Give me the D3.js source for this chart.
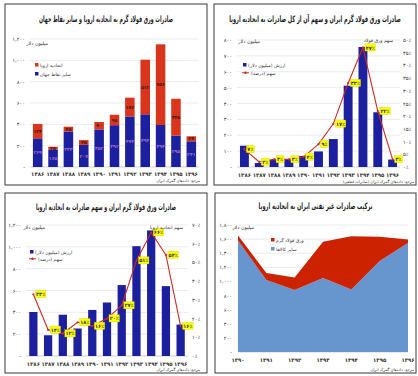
<!DOCTYPE html>
<html>
<head>
<meta charset="utf-8">
<script src="https://cdnjs.cloudflare.com/ajax/libs/d3/7.8.5/d3.min.js"></script>
<style>
body { margin: 0; background: #fff; }
svg { display: block; font-family: "DejaVu Sans", sans-serif; }
</style>
</head>
<body>
<div id="chart"></div>
<script>
// داده ها - میلیون دلار
var years = ["1386","1387","1388","1389","1390","1391","1392","1393","1394","1395","1396"];
var euSteel    = [134, 25, 45, 45, 70, 98, 176, 512, 756, 345, 47];   // ورق فولاد گرم به اتحادیه اروپا
var otherWorld = [269, 165, 333, 207, 352, 392, 474, 494, 394, 295, 241]; // سایر نقاط جهان
var steelShareOfEuExports = [7, 2, 3, 3, 4, 9, 17, 33, 47, 22, 3];   // درصد
var euShareOfSteel = [33, 14, 12, 18, 16, 20, 27, 51, 66, 54, 16];   // درصد
var areaYears   = ["1390","1391","1392","1393","1394","1395","1396"];
var euOtherGoods = [1580, 1020, 880, 1050, 885, 1290, 1546];
var euHotSteel   = [70, 98, 176, 512, 756, 345, 47];

var RLM = "\u200F";
var FA_DIGITS = "۰۱۲۳۴۵۶۷۸۹";
function fa(s) { return String(s).replace(/\d/g, function(d) { return FA_DIGITS[d]; }); }
function faNum(v) { return v === 0 ? "-" : fa(d3.format(",")(v)); }
function faPct(v) { return fa(v) + "٪"; }

var blueDark = "#1c1f9e", redBar = "#d9341c", lineRed = "#cc2b22";
var gridCol = "#e3e3e3", axisCol = "#bdbdbd", txtCol = "#333";

var svg = d3.select("#chart").append("svg")
    .attr("width", 418)
    .attr("height", 376);

function panel(x, y, w, h, title, titleY, titleW) {
    var g = svg.append("g");
    g.append("rect")
        .attr("x", x).attr("y", y).attr("width", w).attr("height", h)
        .attr("fill", "#fff").attr("stroke", "#3a3a3a").attr("stroke-width", 1);
    var t = g.append("text")
        .attr("text-anchor", "middle")
        .attr("font-size", 8.8).attr("font-weight", "bold").attr("fill", "#1a1a1a")
        .text(title);
    // compress horizontally to the width seen in the reference
    var sx = Math.min(1, titleW / t.node().getComputedTextLength());
    t.attr("transform", "translate(" + (x + w / 2) + "," + titleY + ") scale(" + sx + ",1)");
    return g;
}

function grid(g, yScale, ticks, x0, x1) {
    g.selectAll(null).data(ticks).enter().append("line")
        .attr("x1", x0).attr("x2", x1)
        .attr("y1", function(d) { return yScale(d); })
        .attr("y2", function(d) { return yScale(d); })
        .attr("stroke", function(d) { return d === 0 ? axisCol : gridCol; })
        .attr("stroke-width", 0.7);
}

function leftLabels(g, yScale, ticks, xPos, fmt) {
    g.selectAll(null).data(ticks).enter().append("text")
        .attr("x", xPos)
        .attr("y", function(d) { return yScale(d) + 2; })
        .attr("text-anchor", "end")
        .attr("font-size", 5.2).attr("fill", txtCol)
        .text(fmt);
}

function xLabels(g, xScale, yPos, offset) {
    g.selectAll(null).data(xScale.domain()).enter().append("text")
        .attr("x", function(d) { return xScale(d) + offset; })
        .attr("y", yPos)
        .attr("text-anchor", "middle")
        .attr("font-size", 5.4).attr("font-weight", "bold").attr("fill", "#333")
        .text(function(d) { return fa(d); });
}

function small(g, x, y, txt, anchor, size) {
    g.append("text")
        .attr("x", x).attr("y", y)
        .attr("text-anchor", anchor || "start")
        .attr("font-size", size || 4.8).attr("fill", txtCol)
        .text(txt + RLM);
}

function legendSquare(g, x, y, col, label) {
    g.append("rect").attr("x", x).attr("y", y - 3).attr("width", 3.5).attr("height", 3.5).attr("fill", col);
    small(g, x + 5, y + 0.6, label, "start", 4.6);
}

function legendLine(g, x, y, col, label) {
    g.append("line").attr("x1", x - 1).attr("x2", x + 6).attr("y1", y - 1.2).attr("y2", y - 1.2)
        .attr("stroke", col).attr("stroke-width", 1);
    g.append("circle").attr("cx", x + 2.5).attr("cy", y - 1.2).attr("r", 1.2).attr("fill", col);
    small(g, x + 8, y + 0.6, label, "start", 4.6);
}

function shareLine(g, xScale, yScale, values) {
    var pts = values.map(function(v, i) { return [xScale(years[i]) + xScale.bandwidth() / 2, yScale(v), v]; });
    g.append("path")
        .attr("d", d3.line()(pts.map(function(p) { return [p[0], p[1]]; })))
        .attr("fill", "none").attr("stroke", lineRed).attr("stroke-width", 1.1);
    g.selectAll(null).data(pts).enter().append("circle")
        .attr("cx", function(p) { return p[0]; })
        .attr("cy", function(p) { return p[1]; })
        .attr("r", 1.1).attr("fill", lineRed);
    var lab = g.selectAll(null).data(pts).enter().append("g")
        .attr("transform", function(p) { return "translate(" + (p[0] + 2) + "," + p[1] + ")"; });
    lab.append("rect")
        .attr("x", 0).attr("y", -3.8)
        .attr("width", function(p) { return p[2] < 10 ? 8 : 10.5; })
        .attr("height", 7.2)
        .attr("fill", "#ffff00").attr("stroke", "#c8c800").attr("stroke-width", 0.3);
    lab.append("text")
        .attr("x", function(p) { return p[2] < 10 ? 4 : 5.25; })
        .attr("y", 1.9)
        .attr("text-anchor", "middle")
        .attr("font-size", 5).attr("font-weight", "bold").attr("fill", "#333")
        .text(function(p) { return faPct(p[2]); });
}

// ---------- نمودار ۱: بالا چپ ----------
(function() {
    var g = panel(5, 4, 202, 181, "صادرات ورق فولاد گرم به اتحادیه اروپا و سایر نقاط جهان", 22, 134);
    var x = d3.scaleBand().domain(years).range([30, 199]).paddingInner(0.38).paddingOuter(0.19);
    var y = d3.scaleLinear().domain([0, 1200]).range([167, 39]);
    var ticks = y.ticks(6);
    grid(g, y, ticks, 30, 199);
    leftLabels(g, y, ticks, 25, faNum);

    var rows = years.map(function(d, i) { return { year: d, other: otherWorld[i], eu: euSteel[i] }; });
    var series = d3.stack().keys(["other", "eu"])(rows);
    var colors = { other: blueDark, eu: redBar };
    var labCol = { other: "#a070c8", eu: "#3a1a10" };

    series.forEach(function(s) {
        g.selectAll(null).data(s).enter().append("rect")
            .attr("x", function(d) { return x(d.data.year); })
            .attr("y", function(d) { return y(d[1]); })
            .attr("width", x.bandwidth())
            .attr("height", function(d) { return y(d[0]) - y(d[1]); })
            .attr("fill", colors[s.key]);
        g.selectAll(null).data(s).enter().append("text")
            .attr("x", function(d) { return x(d.data.year) + x.bandwidth() / 2; })
            .attr("y", function(d) { return (y(d[0]) + y(d[1])) / 2 + 1.7; })
            .attr("text-anchor", "middle")
            .attr("font-size", 4.6).attr("font-weight", "bold")
            .attr("fill", labCol[s.key])
            .text(function(d) { return fa(d.data[s.key]); });
    });

    xLabels(g, x, 176, x.bandwidth() / 2);
    small(g, 48, 45, "میلیون دلار", "end", 4.8);
    legendSquare(g, 35, 66, redBar, "اتحادیه اروپا");
    legendSquare(g, 35, 75, blueDark, "سایر نقاط جهان");
    small(g, 200, 182, "مرجع: داده‌های گمرک ایران", "end", 3.8);
})();

// ---------- نمودار ۲: بالا راست ----------
(function() {
    var g = panel(214, 4, 202, 181, "صادرات ورق فولاد گرم ایران و سهم آن از کل صادرات به اتحادیه اروپا", 22, 172);
    var x = d3.scaleBand().domain(years).range([237, 400]).paddingInner(0.4).paddingOuter(0.2);
    var y = d3.scaleLinear().domain([0, 800]).range([167, 40]);
    var yR = d3.scaleLinear().domain([0, 50]).range([167, 40]);
    var ticks = y.ticks(8);
    grid(g, y, ticks, 237, 400);
    leftLabels(g, y, ticks, 232, faNum);
    g.selectAll(null).data(yR.ticks(10)).enter().append("text")
        .attr("x", 403).attr("y", function(d) { return yR(d) + 2; })
        .attr("font-size", 5.2).attr("fill", txtCol)
        .text(faPct);

    g.selectAll(null).data(years).enter().append("rect")
        .attr("x", function(d) { return x(d); })
        .attr("y", function(d, i) { return y(euSteel[i]); })
        .attr("width", x.bandwidth())
        .attr("height", function(d, i) { return y(0) - y(euSteel[i]); })
        .attr("fill", blueDark);
    shareLine(g, x, yR, steelShareOfEuExports);

    xLabels(g, x, 177, x.bandwidth() / 2);
    small(g, 260, 43, "میلیون دلار", "end", 4.8);
    small(g, 393, 42, "سهم ورق فولاد", "end", 4.6);
    legendSquare(g, 243, 66, blueDark, "ارزش (میلیون دلار)");
    legendLine(g, 243, 74, lineRed, "سهم (درصد)");
    small(g, 414, 183, "مرجع: داده‌های گمرک ایران (صادرات قطعی)", "end", 3.8);
})();

// ---------- نمودار ۳: پایین چپ ----------
(function() {
    var g = panel(5, 193, 202, 180, "صادرات ورق فولاد گرم ایران و سهم صادرات به اتحادیه اروپا", 210, 140);
    var x = d3.scaleBand().domain(years).range([26, 188]).paddingInner(0.44).paddingOuter(0.22);
    var y = d3.scaleLinear().domain([0, 1200]).range([356, 225]);
    var yR = d3.scaleLinear().domain([0, 70]).range([356, 225]);
    var ticks = y.ticks(6);
    grid(g, y, ticks, 26, 188);
    leftLabels(g, y, ticks, 21, faNum);
    g.selectAll(null).data(yR.ticks(7)).enter().append("text")
        .attr("x", 192).attr("y", function(d) { return yR(d) + 2; })
        .attr("font-size", 5.2).attr("fill", txtCol)
        .text(faPct);

    g.selectAll(null).data(years).enter().append("rect")
        .attr("x", function(d) { return x(d); })
        .attr("y", function(d, i) { return y(euSteel[i] + otherWorld[i]); })
        .attr("width", x.bandwidth())
        .attr("height", function(d, i) { return y(0) - y(euSteel[i] + otherWorld[i]); })
        .attr("fill", blueDark);
    shareLine(g, x, yR, euShareOfSteel);

    xLabels(g, x, 366, x.bandwidth() / 2);
    small(g, 45, 229, "میلیون دلار", "end", 4.8);
    small(g, 183, 229, "سهم اتحادیه اروپا", "end", 4.6);
    legendSquare(g, 30, 253, blueDark, "ارزش (میلیون دلار)");
    legendLine(g, 30, 260, lineRed, "سهم (درصد)");
    small(g, 200, 371, "مرجع: داده‌های گمرک ایران", "end", 3.8);
})();

// ---------- نمودار ۴: پایین راست ----------
(function() {
    var g = panel(215, 193, 201, 180, "ترکیب صادرات غیر نفتی ایران به اتحادیه اروپا", 209, 114);
    var x = d3.scalePoint().domain(areaYears).range([238, 408]);
    var y = d3.scaleLinear().domain([0, 1800]).range([352, 225]);
    var ticks = y.ticks(9);
    grid(g, y, ticks, 238, 408);
    leftLabels(g, y, ticks, 232, faNum);

    var rows = areaYears.map(function(d, i) { return { year: d, other: euOtherGoods[i], steel: euHotSteel[i] }; });
    var series = d3.stack().keys(["other", "steel"])(rows);
    var colors = { other: "#6796ce", steel: "#cc2200" };
    var area = d3.area()
        .x(function(d) { return x(d.data.year); })
        .y0(function(d) { return y(d[0]); })
        .y1(function(d) { return y(d[1]); });
    g.selectAll(null).data(series).enter().append("path")
        .attr("d", area)
        .attr("fill", function(s) { return colors[s.key]; });

    xLabels(g, x, 362, 0);
    small(g, 254, 229, "میلیون دلار", "end", 4.8);
    legendSquare(g, 271, 241, "#cc2200", "ورق فولاد گرم");
    legendSquare(g, 271, 250, "#6796ce", "سایر کالاها");
    small(g, 414, 371, "مرجع: داده‌های گمرک ایران", "end", 3.8);
})();
</script>
</body>
</html>
